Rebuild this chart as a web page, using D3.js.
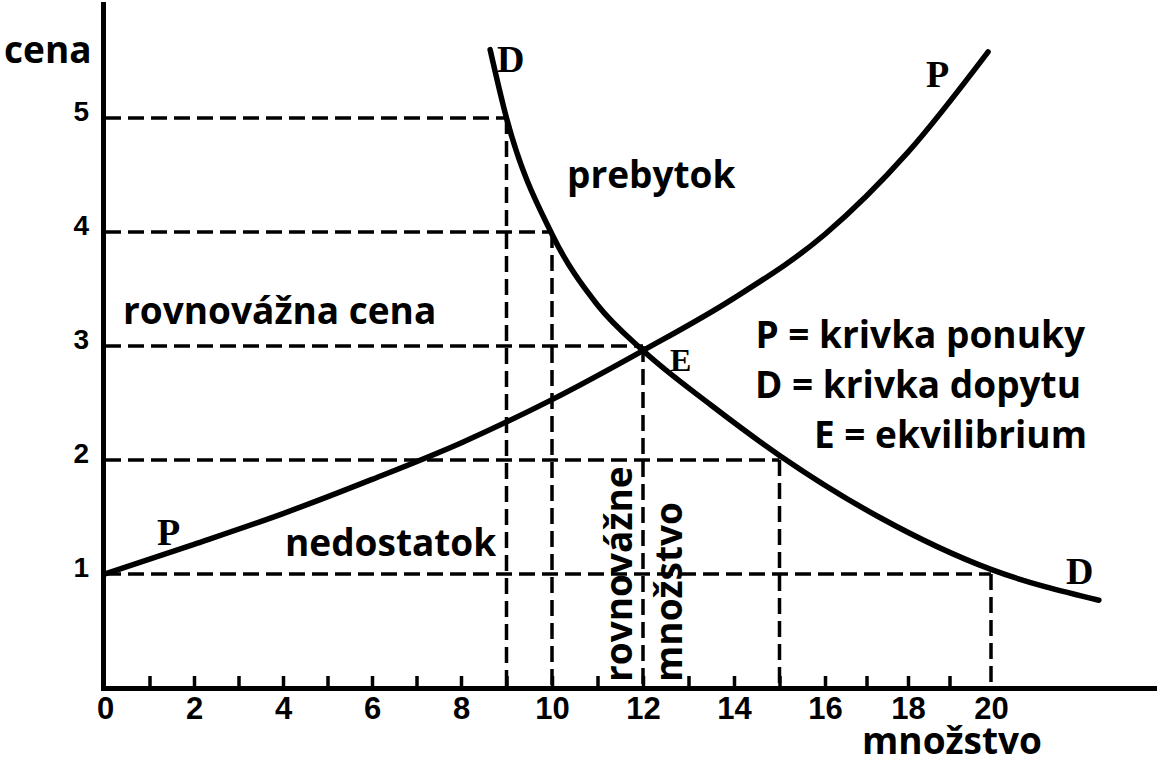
<!DOCTYPE html>
<html>
<head>
<meta charset="utf-8">
<script src="https://cdn.jsdelivr.net/npm/d3@7"></script>
<style>
  html, body { margin: 0; padding: 0; background: #fff; }
  svg { display: block; }
  .lbl { font-family: "Open Sans", "Noto Sans", sans-serif; font-weight: 700; font-size: 37px; fill: #000; }
  .hand { font-family: "Liberation Serif", "DejaVu Serif", serif; font-weight: 700; fill: #000; }
  .tick text { font-family: "Liberation Sans Narrow", "Liberation Sans", sans-serif; font-weight: 700; fill: #000; }
</style>
</head>
<body>
<svg id="chart" width="1157" height="764"></svg>
<script>
// ---- data ----
const priceTicks = [1, 2, 3, 4, 5];
const qtyTickLabels = [0, 2, 4, 6, 8, 10, 12, 14, 16, 18, 20];
const qtyMinorTicks = [1, 2, 3, 4, 5, 6, 7, 8, 9, 10, 11, 12, 13, 14, 15, 16, 17, 18, 19];

// supply curve P
const supplyQ = [0, 2, 4, 6, 8, 10, 12, 14, 16, 18, 19.93];
const supplyP = [1.0, 1.26, 1.53, 1.83, 2.15, 2.53, 2.96, 3.42, 3.98, 4.7, 5.58];

// demand curve D
const demandQ = [8.64, 9.0, 10.0, 11.0, 12.0, 13.5, 15.0, 17.3, 20.0, 22.6];
const demandP = [5.6, 5.0, 3.98, 3.36, 2.96, 2.48, 2.04, 1.5, 1.04, 0.77];

// demand schedule guide points (dashed)
const guideQ = [9, 10, 12, 15, 20];
const guideP = [5, 4, 3, 2, 1];

// ---- scales ----
const svg = d3.select("#chart");
svg.append("rect").attr("width", 1157).attr("height", 764).attr("fill", "#fff");

const x = d3.scaleLinear().domain([0, 8, 16, 24]).range([105, 461, 825, 1157]);
const y = d3.scaleLinear().domain([0, 6]).range([688, 4]);

// ---- dashed guide lines ----
const guides = svg.append("g")
  .attr("stroke", "#000").attr("stroke-width", 3.5)
  .attr("stroke-dasharray", "16,7").attr("fill", "none");
guideQ.forEach((q, i) => {
  guides.append("line")
    .attr("x1", x(0)).attr("y1", y(guideP[i]))
    .attr("x2", x(q)).attr("y2", y(guideP[i]));
  guides.append("line")
    .attr("x1", x(q)).attr("y1", y(guideP[i]))
    .attr("x2", x(q)).attr("y2", y(0));
});

// ---- axes ----
const xMinor = d3.axisBottom(x).tickValues(qtyMinorTicks).tickSizeInner(-12).tickSizeOuter(0).tickFormat("");
svg.append("g").attr("transform", `translate(0,${y(0)})`).call(xMinor)
  .call(g => g.select(".domain").remove())
  .call(g => g.selectAll(".tick line").attr("stroke", "#000").attr("stroke-width", 3.5));

const xAxis = d3.axisBottom(x).tickValues(qtyTickLabels).tickSize(0).tickPadding(9).tickFormat(d3.format("d"));
svg.append("g").attr("transform", `translate(0,${y(0)})`).call(xAxis)
  .call(g => g.select(".domain").attr("stroke", "#000").attr("stroke-width", 5).attr("stroke-linecap", "square"))
  .call(g => g.selectAll(".tick text").attr("font-size", 31).attr("dy", "0.71em"));

const yAxis = d3.axisLeft(y).tickValues(priceTicks).tickSize(0).tickPadding(14).tickFormat(d3.format("d"));
svg.append("g").attr("transform", `translate(${x(0) - 2},0)`).call(yAxis)
  .call(g => g.select(".domain").attr("stroke", "#000").attr("stroke-width", 5).attr("stroke-linecap", "square"))
  .call(g => g.selectAll(".tick text").attr("font-size", 28).attr("dy", "0.1em"));

// ---- curves ----
const line = d3.line().x(d => x(d[0])).y(d => y(d[1])).curve(d3.curveMonotoneX);
svg.append("path")
  .datum(supplyQ.map((q, i) => [q, supplyP[i]]))
  .attr("d", line).attr("fill", "none").attr("stroke", "#000")
  .attr("stroke-width", 5.5).attr("stroke-linecap", "round");
svg.append("path")
  .datum(demandQ.map((q, i) => [q, demandP[i]]))
  .attr("d", line).attr("fill", "none").attr("stroke", "#000")
  .attr("stroke-width", 5.5).attr("stroke-linecap", "round");

// ---- hand-lettered curve labels ----
const hand = [
  {t: "D", x: 497, y: 72, s: 38},
  {t: "P", x: 926, y: 87, s: 38},
  {t: "P", x: 157, y: 545, s: 38},
  {t: "D", x: 1066, y: 584, s: 38},
  {t: "E", x: 670, y: 371, s: 32}
];
svg.append("g").selectAll("text").data(hand).join("text")
  .attr("class", "hand").attr("x", d => d.x).attr("y", d => d.y)
  .attr("font-size", d => d.s).text(d => d.t);

// ---- text labels ----
const labels = [
  {t: "cena", x: 4, y: 63, a: "start"},
  {t: "prebytok", x: 567, y: 188, a: "start"},
  {t: "rovnovážna cena", x: 123, y: 324, a: "start"},
  {t: "nedostatok", x: 285, y: 556, a: "start"},
  {t: "P = krivka ponuky", x: 1085, y: 348, a: "end"},
  {t: "D = krivka dopytu", x: 1081, y: 398, a: "end"},
  {t: "E = ekvilibrium", x: 1087, y: 448, a: "end"},
  {t: "množstvo", x: 862, y: 754, a: "start"}
];
svg.append("g").selectAll("text").data(labels).join("text")
  .attr("class", "lbl").attr("x", d => d.x).attr("y", d => d.y)
  .attr("text-anchor", d => d.a).text(d => d.t);

// rotated labels
svg.append("text").attr("class", "lbl")
  .attr("transform", "translate(632,682) rotate(-90)").text("rovnovážne");
svg.append("text").attr("class", "lbl")
  .attr("transform", "translate(682,682) rotate(-90)").text("množstvo");
</script>
</body>
</html>
